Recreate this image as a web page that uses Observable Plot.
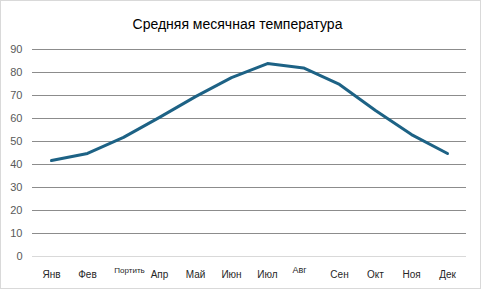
<!DOCTYPE html>
<html><head><meta charset="utf-8">
<script src="https://cdn.jsdelivr.net/npm/d3@7"></script>
<script src="https://cdn.jsdelivr.net/npm/@observablehq/plot@0.6"></script>
<style>
html,body{margin:0;padding:0;background:#fff;}
#chart{width:479px;height:287px;border:1px solid #d9d9d9;background:#fff;font-family:"Liberation Sans",Arial,sans-serif;overflow:hidden;}
#title{height:35px;box-sizing:border-box;padding-top:15px;padding-right:6px;text-align:center;font-size:14px;color:#000;line-height:17px;}
</style></head>
<body><div id="chart"><div id="title">Средняя месячная температура</div></div>
<script>
const months = ["Янв","Фев","Портить","Апр","Май","Июн","Июл","Авг","Сен","Окт","Ноя","Дек"];
const temps = [41.7, 44.8, 51.8, 60.5, 69.5, 77.8, 83.9, 82.0, 74.8, 63.5, 53.0, 44.8];
const yTicks = [0,10,20,30,40,50,60,70,80,90];
const smallLabels = ["Портить","Авг"];

const data = months.map((m,i)=>({month:m, temp:temps[i]}));
const normalLabels = months.filter(m=>!smallLabels.includes(m));

const chart = Plot.plot({
  width: 479,
  height: 252,
  marginLeft: 31,
  marginRight: 14,
  marginTop: 13,
  marginBottom: 32,
  style: {fontFamily: "'Liberation Sans', Arial, sans-serif", background: "#fff"},
  x: {type: "point", domain: months, padding: 0.5, axis: null},
  y: {domain: [0, 90], axis: null},
  marks: [
    Plot.ruleY(yTicks.filter(d=>d!==0), {stroke: "#8c8c8c", strokeWidth: 1}),
    Plot.ruleY([0], {stroke: "#d9d9d9", strokeWidth: 1}),
    Plot.text(yTicks, {y: d => d, text: d => String(d), frameAnchor: "left", textAnchor: "end", dx: -10, fill: "#595959", fontSize: 11}),
    Plot.line(data, {x: "month", y: "temp", stroke: "#1d6285", strokeWidth: 3, strokeLinejoin: "round", strokeLinecap: "round"}),
    Plot.text(normalLabels, {x: d=>d, frameAnchor: "bottom", lineAnchor: "middle", dy: 18, fill: "#262626", fontSize: 10}),
    Plot.text([smallLabels[0]], {x: d=>d, frameAnchor: "bottom", lineAnchor: "middle", dy: 14, dx: 6, fill: "#262626", fontSize: 8}),
    Plot.text([smallLabels[1]], {x: d=>d, frameAnchor: "bottom", lineAnchor: "middle", dy: 14, dx: -4, fill: "#262626", fontSize: 9})
  ]
});
document.getElementById("chart").appendChild(chart);
</script>
</body></html>
